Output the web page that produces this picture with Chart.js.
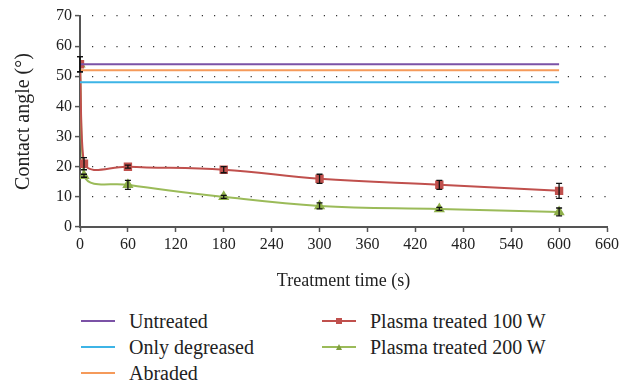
<!DOCTYPE html>
<html>
<head>
<meta charset="utf-8">
<script src="https://cdn.jsdelivr.net/npm/chart.js@4.4.1/dist/chart.umd.min.js"></script>
<style>
  body { margin: 0; background: #fff; width: 634px; height: 387px; overflow: hidden; }
  #wrap { position: relative; width: 634px; height: 300px; }
  .legend { position: absolute; font-family: "Liberation Serif", "DejaVu Serif", serif; font-size: 20px; color: #222; }
  .item { position: absolute; white-space: nowrap; height: 26px; line-height: 26px; }
  .item .ln { position: absolute; left: 0; top: 12px; width: 34px; height: 2px; }
  .item .mk { position: absolute; left: 14px; top: 10px; width: 6px; height: 6px; }
  .item span.t { position: absolute; left: 48px; top: 0; }
</style>
</head>
<body>
<div id="wrap"><canvas id="chart" width="634" height="300"></canvas></div>
<div class="legend" style="left:81px; top:308px;">
  <div class="item" style="top:0"><div class="ln" style="background:#7b52a6"></div><span class="t">Untreated</span></div>
  <div class="item" style="top:26px"><div class="ln" style="background:#3db4e6"></div><span class="t">Only degreased</span></div>
  <div class="item" style="top:52px"><div class="ln" style="background:#f59a5a"></div><span class="t">Abraded</span></div>
</div>
<div class="legend" style="left:322px; top:308px;">
  <div class="item" style="top:0"><div class="ln" style="background:#c0504d"></div><div class="mk" style="background:#c0504d"></div><span class="t">Plasma treated 100 W</span></div>
  <div class="item" style="top:26px"><div class="ln" style="background:#9bbb59"></div><div class="mk" style="background:none;width:0;height:0;border-left:3px solid transparent;border-right:3px solid transparent;border-bottom:6px solid #7f9f3f;"></div><span class="t">Plasma treated 200 W</span></div>
</div>
<script>
// data
const times = [0, 5, 60, 180, 300, 450, 600];
const plasma100 = [54, 21, 20, 19, 16, 14, 12];
const plasma100Err = [2.5, 2, 0.5, 1, 1.5, 1.5, 2.5];
const plasma200 = [54, 17, 14, 10, 7, 6, 5];
const plasma200Err = [2.5, 0.5, 1.5, 0.5, 1, 0.5, 1.3];
const refTimes = [0, 600];
const untreated = [54, 54];
const onlyDegreased = [48, 48];
const abraded = [52, 52];
const xTicks = [0, 60, 120, 180, 240, 300, 360, 420, 480, 540, 600, 660];
const yTicks = [0, 10, 20, 30, 40, 50, 60, 70];

const pts = (xs, ys) => xs.map((x, i) => ({ x: x, y: ys[i] }));

const errorBars = {
  id: 'errorBars',
  afterDatasetsDraw(chart) {
    const ctx = chart.ctx, xs = chart.scales.x, ys = chart.scales.y;
    ctx.save();
    ctx.strokeStyle = '#111';
    ctx.lineWidth = 1.3;
    chart.data.datasets.forEach(ds => {
      if (!ds.err) return;
      ds.data.forEach((p, i) => {
        const e = ds.err[i];
        const px = xs.getPixelForValue(p.x);
        const y1 = ys.getPixelForValue(p.y + e), y2 = ys.getPixelForValue(p.y - e);
        ctx.beginPath();
        ctx.moveTo(px, y1); ctx.lineTo(px, y2);
        ctx.moveTo(px - 3, y1); ctx.lineTo(px + 3, y1);
        ctx.moveTo(px - 3, y2); ctx.lineTo(px + 3, y2);
        ctx.stroke();
      });
    });
    ctx.restore();
  }
};

const serif = 'Liberation Serif, DejaVu Serif, serif';
const font = { family: serif, size: 16 };

new Chart(document.getElementById('chart'), {
  type: 'scatter',
  data: {
    datasets: [
      { label: 'Untreated', data: pts(refTimes, untreated), showLine: true, borderColor: '#7b52a6', borderWidth: 2, pointRadius: 0 },
      { label: 'Only degreased', data: pts(refTimes, onlyDegreased), showLine: true, borderColor: '#3db4e6', borderWidth: 2, pointRadius: 0 },
      { label: 'Abraded', data: pts(refTimes, abraded), showLine: true, borderColor: '#f59a5a', borderWidth: 2, pointRadius: 0 },
      { label: 'Plasma treated 100 W', data: pts(times, plasma100), err: plasma100Err, showLine: true, tension: 0.4,
        borderColor: '#c0504d', borderWidth: 2, pointStyle: 'rect', pointRadius: 4.5, backgroundColor: '#c0504d', pointBorderColor: '#c0504d' },
      { label: 'Plasma treated 200 W', data: pts(times, plasma200), err: plasma200Err, showLine: true, tension: 0.4,
        borderColor: '#9bbb59', borderWidth: 2, pointStyle: 'triangle', pointRadius: 4.5, backgroundColor: '#8fb04a', pointBorderColor: '#8fb04a' }
    ]
  },
  options: {
    responsive: false,
    animation: false,
    layout: { padding: { top: 16, right: 27, left: 0, bottom: 0 } },
    plugins: { legend: { display: false }, tooltip: { enabled: false } },
    scales: {
      x: {
        type: 'linear', min: 0, max: 660,
        afterBuildTicks: s => { s.ticks = xTicks.map(v => ({ value: v })); },
        afterFit: s => { s.height = 73; },
        ticks: { font: font, color: '#222', padding: 3, maxRotation: 0 },
        grid: { drawOnChartArea: false, tickLength: 5, tickColor: '#555', tickWidth: 1.5 },
        border: { color: '#555', width: 2 },
        title: { display: true, text: 'Treatment time (s)', font: { family: serif, size: 18 }, color: '#222', padding: { top: 2, bottom: 8 } }
      },
      y: {
        min: 0, max: 70,
        afterBuildTicks: s => { s.ticks = yTicks.map(v => ({ value: v })); },
        afterFit: s => { s.width = 80; },
        ticks: { font: font, color: '#222', padding: 3 },
        grid: { color: '#333', lineWidth: 1.2, tickLength: 5, tickColor: '#555', tickWidth: 1.5, tickBorderDash: [] },
        border: { color: '#555', width: 2, dash: [1.2, 11], dashOffset: -11 },
        title: { display: true, text: 'Contact angle (°)', font: { family: serif, size: 20 }, color: '#222', padding: { top: 12, bottom: 2 } }
      }
    }
  },
  plugins: [errorBars]
});
</script>
</body>
</html>
